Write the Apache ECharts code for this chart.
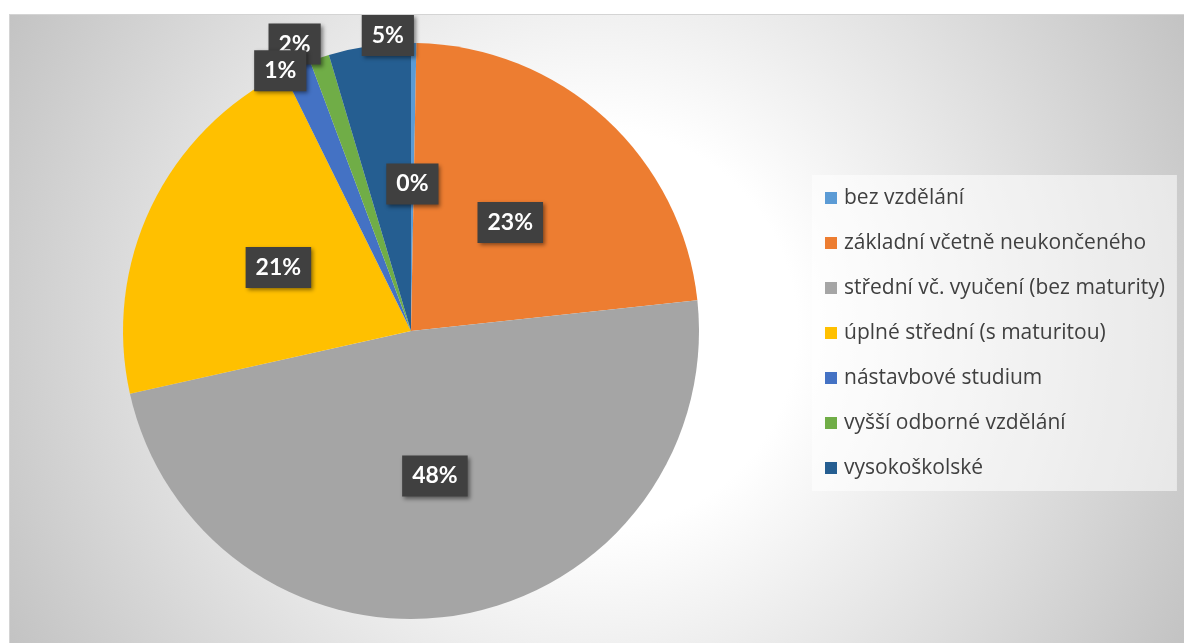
<!DOCTYPE html>
<html>
<head>
<meta charset="utf-8">
<script src="https://cdn.jsdelivr.net/npm/echarts@6/dist/echarts.min.js"></script>
<style>
    html, body { margin: 0; padding: 0; background: #fff; }
    #chart {
        position: absolute;
        left: 9px;
        top: 14px;
        width: 1174px;
        height: 628px;
        border: 1px solid #d4d4d4;
    }
</style>
</head>
<body>
<div id="chart"></div>
<script>
    // data (share in %)
    var categories = [
        'bez vzdělání',
        'základní včetně neukončeného',
        'střední vč. vyučení (bez maturity)',
        'úplné střední (s maturitou)',
        'nástavbové studium',
        'vyšší odborné vzdělání',
        'vysokoškolské'
    ];
    var values = [0.3, 23.0, 48.2, 21.2, 1.6, 1.1, 4.6];
    var colors = ['#5B9BD5', '#ED7D31', '#A5A5A5', '#FFC000', '#4472C4', '#70AD47', '#255E91'];

    // small slices: labels pushed out to the rim like in the original
    var labelShift = {
        4: { dx: -58, dy: -152 },
        5: { dx: -84, dy: -121 },
        6: { dx: -2, dy: -150 }
    };

    var chart = echarts.init(document.getElementById('chart'));

    chart.setOption({
        animation: false,
        backgroundColor: {
            type: 'radial',
            x: 0.5,
            y: 0.5,
            r: 1.06,
            colorStops: [
                { offset: 0, color: '#ffffff' },
                { offset: 0.3, color: '#ffffff' },
                { offset: 1, color: '#c3c3c3' }
            ]
        },
        color: colors,
        legend: {
            orient: 'vertical',
            left: 802,
            top: 160,
            padding: [11, 12, 11, 13],
            backgroundColor: 'rgba(255,255,255,0.55)',
            itemWidth: 12,
            itemHeight: 12,
            itemGap: 21,
            icon: 'rect',
            textStyle: {
                fontFamily: 'Open Sans',
                fontSize: 21,
                lineHeight: 24,
                color: '#404040',
                padding: [0, 0, 0, 2]
            },
            data: categories
        },
        series: [{
            type: 'pie',
            center: [401, 316],
            radius: [0, 288],
            startAngle: 90,
            clockwise: true,
            percentPrecision: 0,
            avoidLabelOverlap: false,
            label: {
                show: true,
                position: 'inside',
                formatter: '{d}%',
                fontFamily: 'Lato',
                fontWeight: 'bold',
                fontSize: 23,
                color: '#fff',
                backgroundColor: '#404040',
                padding: [10, 10, 8, 10],
                shadowColor: 'rgba(0,0,0,0.45)',
                shadowBlur: 4,
                shadowOffsetX: 2,
                shadowOffsetY: 2
            },
            labelLine: { show: false },
            labelLayout: function (params) {
                return labelShift[params.dataIndex] || {};
            },
            itemStyle: { borderWidth: 0 },
            emphasis: { disabled: true },
            data: categories.map(function (name, i) {
                return { name: name, value: values[i] };
            })
        }]
    });
</script>
</body>
</html>
